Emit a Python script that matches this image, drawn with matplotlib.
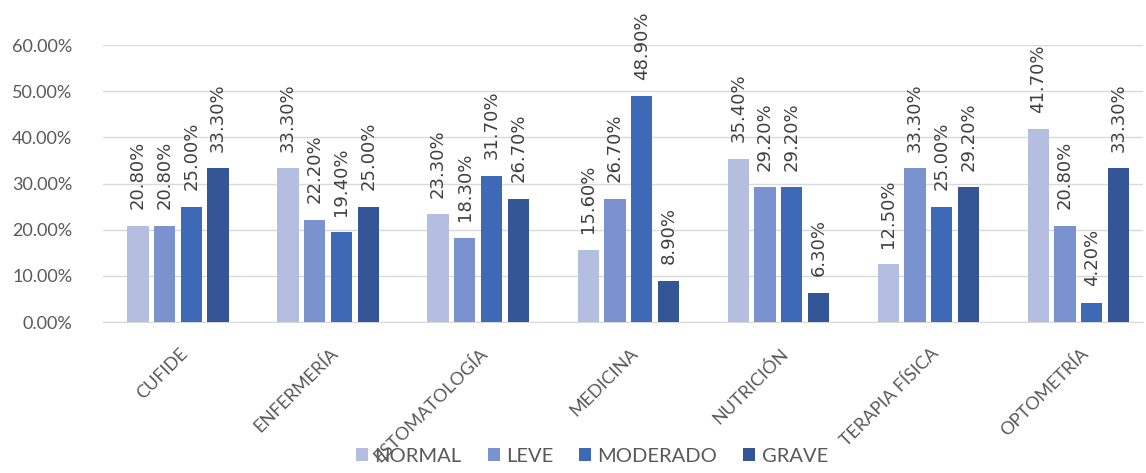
import matplotlib
matplotlib.use("Agg")
import matplotlib.pyplot as plt
import numpy as np

categories = ["CUFIDE", "ENFERMERÍA", "ESTOMATOLOGÍA", "MEDICINA", "NUTRICIÓN", "TERAPIA FÍSICA", "OPTOMETRÍA"]
series_names = ["NORMAL", "LEVE", "MODERADO", "GRAVE"]
normal = [20.80, 33.30, 23.30, 15.60, 35.40, 12.50, 41.70]
leve = [20.80, 22.20, 18.30, 26.70, 29.20, 33.30, 20.80]
moderado = [25.00, 19.40, 31.70, 48.90, 29.20, 25.00, 4.20]
grave = [33.30, 25.00, 26.70, 8.90, 6.30, 29.20, 33.30]
colors = ["#B4BEE0", "#7A93CF", "#3E69B6", "#345596"]

plt.rcParams['font.family'] = ['Lato', 'DejaVu Sans']

fig = plt.figure(figsize=(11.46, 4.73), dpi=100)
ax = fig.add_axes([103/1146, 1-322/473, 1040/1146, (322-45)/473])

x = np.arange(len(categories))
pitch = 0.178
width = 0.142
all_series = [normal, leve, moderado, grave]
for i, (vals, c, name) in enumerate(zip(all_series, colors, series_names)):
    pos = x + (i - 1.5) * pitch
    ax.bar(pos, np.array(vals) / 100, width=width, color=c, label=name, zorder=3)
    for p, v in zip(pos, vals):
        ax.annotate(f"{v:.2f}%", (p, v / 100), xytext=(0, 12), textcoords="offset points",
                    rotation=90, ha="center", va="bottom", fontsize=13, color="#404040",
                    family="DejaVu Sans")

ax.set_ylim(0, 0.6)
ax.set_xlim(-0.5, 6.43)
ax.set_yticks(np.arange(0, 0.61, 0.1))
ax.set_yticklabels([f"{t*100:.2f}%" for t in np.arange(0, 0.61, 0.1)], fontsize=13, color="#595959")
ax.yaxis.grid(True, color="#D9D9D9", linewidth=1, zorder=0)
ax.set_axisbelow(True)
for s in ["top", "right", "left"]:
    ax.spines[s].set_visible(False)
ax.spines["bottom"].set_color("#D9D9D9")
ax.tick_params(axis="both", length=0)
ax.tick_params(axis="y", pad=22)
ax.set_xticks(x + 0.01)
ax.set_xticklabels(categories, rotation=45, ha="right", va="top", rotation_mode="anchor",
                   fontsize=13, color="#595959")
ax.tick_params(axis="x", pad=17)

leg = fig.legend(loc="center", bbox_to_anchor=(592/1146, 1-456/473), ncol=4, frameon=False,
                 fontsize=14.5, handlelength=0.6, handleheight=0.6, handletextpad=0.3, columnspacing=1.3)
for t in leg.get_texts():
    t.set_color("#595959")

fig.savefig("out.png", dpi=100)
